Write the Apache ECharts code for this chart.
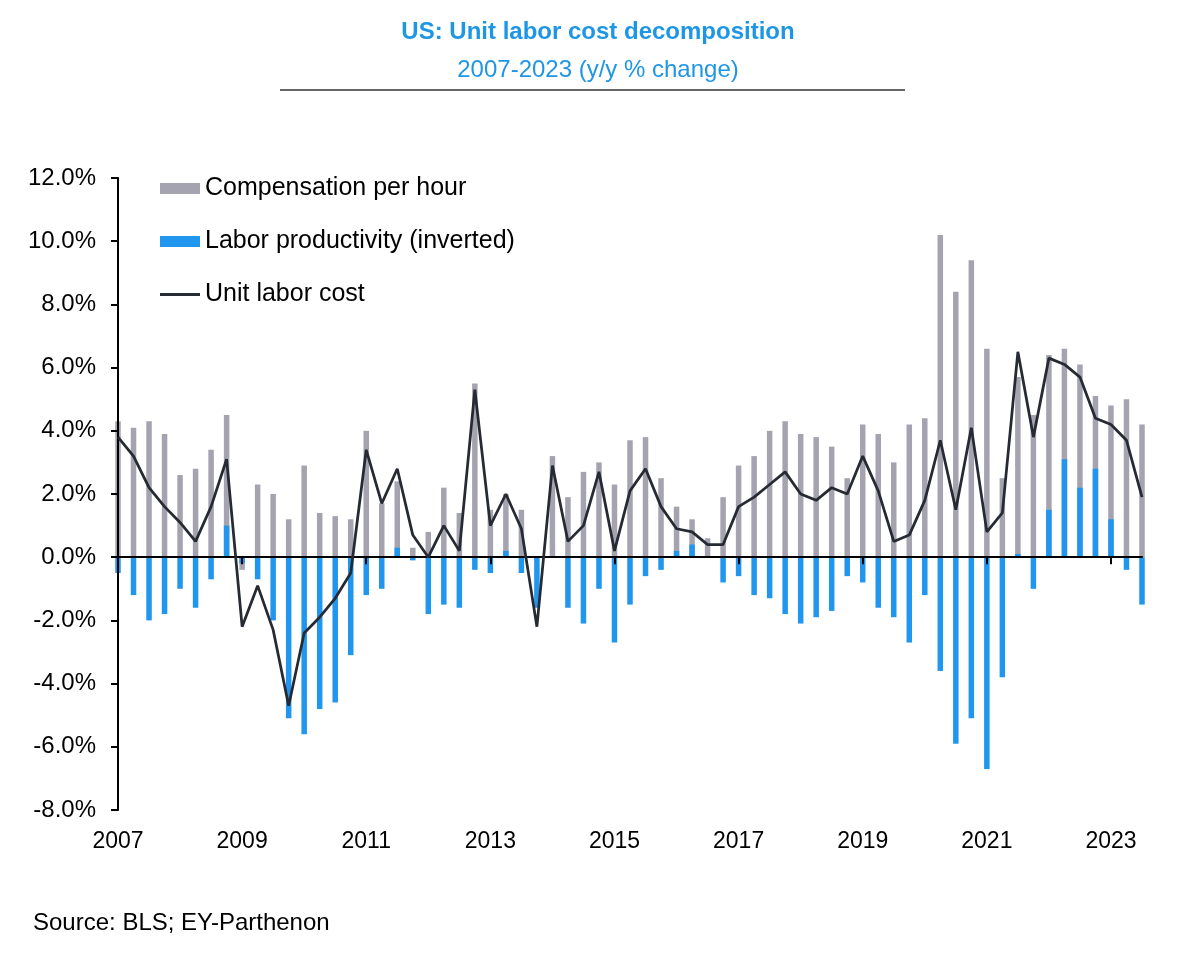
<!DOCTYPE html>
<html>
<head>
<meta charset="utf-8">
<script src="https://cdn.jsdelivr.net/npm/echarts@6/dist/echarts.min.js"></script>
<style>
  html, body { margin: 0; padding: 0; background: #fff; }
  #chart { width: 1196px; height: 957px; }
</style>
</head>
<body>
<div id="chart"></div>
<script>
// Quarterly categories 2007 Q1 – 2023 Q3
const years = [2007,2008,2009,2010,2011,2012,2013,2014,2015,2016,2017,2018,2019,2020,2021,2022,2023];
const categories = [];
years.forEach(y => { for (let q = 1; q <= 4; q++) { if (y === 2023 && q > 3) break; categories.push(y + ' Q' + q); } });

// Compensation per hour (y/y %)
const compensation = [
  4.3, 4.1, 4.3, 3.9,
  2.6, 2.8, 3.4, 4.5,
  -0.4, 2.3, 2.0, 1.2,
  2.9, 1.4, 1.3, 1.2,
  4.0, 1.7, 2.4, 0.3,
  0.8, 2.2, 1.4, 5.5,
  1.5, 2.0, 1.5, 0.0,
  3.2, 1.9, 2.7, 3.0,
  2.3, 3.7, 3.8, 2.5,
  1.6, 1.2, 0.6, 1.9,
  2.9, 3.2, 4.0, 4.3,
  3.9, 3.8, 3.5, 2.5,
  4.2, 3.9, 3.0, 4.2,
  4.4, 10.2, 8.4, 9.4,
  6.6, 2.5, 5.7, 4.5,
  6.4, 6.6, 6.1, 5.1,
  4.8, 5.0, 4.2
];

// Labor productivity (inverted, y/y %)
const productivityInv = [
  -0.5, -1.2, -2.0, -1.8,
  -1.0, -1.6, -0.7, 1.0,
  -0.2, -0.7, -2.0, -5.1,
  -5.6, -4.8, -4.6, -3.1,
  -1.2, -1.0, 0.3, -0.1,
  -1.8, -1.5, -1.6, -0.4,
  -0.5, 0.2, -0.5, -1.6,
  0.0, -1.6, -2.1, -1.0,
  -2.7, -1.5, -0.6, -0.4,
  0.2, 0.4, 0.0, -0.8,
  -0.6, -1.2, -1.3, -1.8,
  -2.1, -1.9, -1.7, -0.6,
  -0.8, -1.6, -1.9, -2.7,
  -1.2, -3.6, -5.9, -5.1,
  -6.7, -3.8, 0.1, -1.0,
  1.5, 3.1, 2.2, 2.8,
  1.2, -0.4, -1.5
];

// Unit labor cost (y/y %)
const unitLaborCost = [
  3.8, 3.2, 2.2, 1.6,
  1.1, 0.5, 1.6, 3.1,
  -2.2, -0.9, -2.3, -4.7,
  -2.4, -1.9, -1.3, -0.5,
  3.4, 1.7, 2.8, 0.7,
  0.0, 1.0, 0.2, 5.3,
  1.0, 2.0, 0.9, -2.2,
  2.9, 0.5, 1.0, 2.7,
  0.2, 2.1, 2.8, 1.6,
  0.9, 0.8, 0.4, 0.4,
  1.6, 1.9, 2.3, 2.7,
  2.0, 1.8, 2.2, 2.0,
  3.2, 2.1, 0.5, 0.7,
  1.8, 3.7, 1.5, 4.1,
  0.8, 1.4, 6.5, 3.8,
  6.3, 6.1, 5.7, 4.4,
  4.2, 3.7, 1.9
];

const seriesNames = ['Compensation per hour', 'Labor productivity (inverted)', 'Unit labor cost'];
const FONT = '"Liberation Sans", Arial, sans-serif';

const chart = echarts.init(document.getElementById('chart'), null, { renderer: 'canvas' });
chart.setOption({
  animation: false,
  backgroundColor: '#ffffff',
  textStyle: { fontFamily: FONT },
  title: [
    { text: 'US: Unit labor cost decomposition', left: 'center', top: 15,
      textStyle: { fontFamily: FONT, fontSize: 24, fontWeight: 'bold', color: '#1E96E6' } },
    { text: '2007-2023 (y/y % change)', left: 'center', top: 53,
      textStyle: { fontFamily: FONT, fontSize: 24, fontWeight: 'normal', color: '#1E96E6' } },
    { text: 'Source: BLS; EY-Parthenon', left: 28, top: 906,
      textStyle: { fontFamily: FONT, fontSize: 24, fontWeight: 'normal', color: '#000' } }
  ],
  graphic: [
    { type: 'line', shape: { x1: 280, y1: 90, x2: 905, y2: 90 },
      style: { stroke: '#333', lineWidth: 1.5 } }
  ],
  legend: {
    orient: 'vertical', left: 155, top: 171,
    itemWidth: 40, itemHeight: 11, itemGap: 28,
    textStyle: { fontFamily: FONT, fontSize: 25, color: '#000', lineHeight: 24 },
    data: [
      { name: seriesNames[0], icon: 'rect' },
      { name: seriesNames[1], icon: 'rect' },
      { name: seriesNames[2], icon: 'path://M0,0 H40 V3 H0 Z', itemStyle: { color: '#262A33' } }
    ]
  },
  grid: { left: 118, right: 54, top: 178, bottom: 147, containLabel: false },
  xAxis: [
    {
      type: 'category', data: categories, boundaryGap: false, position: 'bottom', z: 5,
      axisLine: { onZero: true, lineStyle: { color: '#000', width: 2 } },
      axisTick: { show: true, interval: 7, length: 7, lineStyle: { color: '#000', width: 2 } },
      axisLabel: { show: false },
      splitLine: { show: false }
    },
    {
      type: 'category', data: categories, boundaryGap: false, position: 'bottom', offset: 0,
      axisLine: { show: false, onZero: false },
      axisTick: { show: false },
      axisLabel: { show: true, interval: 7, margin: 20, fontFamily: FONT, fontSize: 23, color: '#000',
        formatter: v => v.slice(0, 4) },
      splitLine: { show: false }
    }
  ],
  yAxis: {
    type: 'value', min: -8, max: 12, interval: 2, z: 5,
    axisLine: { show: true, lineStyle: { color: '#000', width: 2 } },
    axisTick: { show: true, length: 7, lineStyle: { color: '#000', width: 2 } },
    axisLabel: { margin: 22, fontFamily: FONT, fontSize: 24, color: '#000',
      formatter: v => v.toFixed(1) + '%' },
    splitLine: { show: false }
  },
  series: [
    { name: seriesNames[0], type: 'bar', xAxisIndex: 0, data: compensation,
      barWidth: 5.5, barGap: '-100%', itemStyle: { color: '#A5A3B0' }, z: 2 },
    { name: seriesNames[1], type: 'bar', xAxisIndex: 0, data: productivityInv,
      barWidth: 5.5, barGap: '-100%', itemStyle: { color: '#2096EE' }, z: 3 },
    { name: seriesNames[2], type: 'line', xAxisIndex: 0, data: unitLaborCost,
      symbol: 'none', lineStyle: { color: '#262A33', width: 2.75 }, itemStyle: { color: '#262A33' }, z: 10 }
  ]
});
</script>
</body>
</html>
